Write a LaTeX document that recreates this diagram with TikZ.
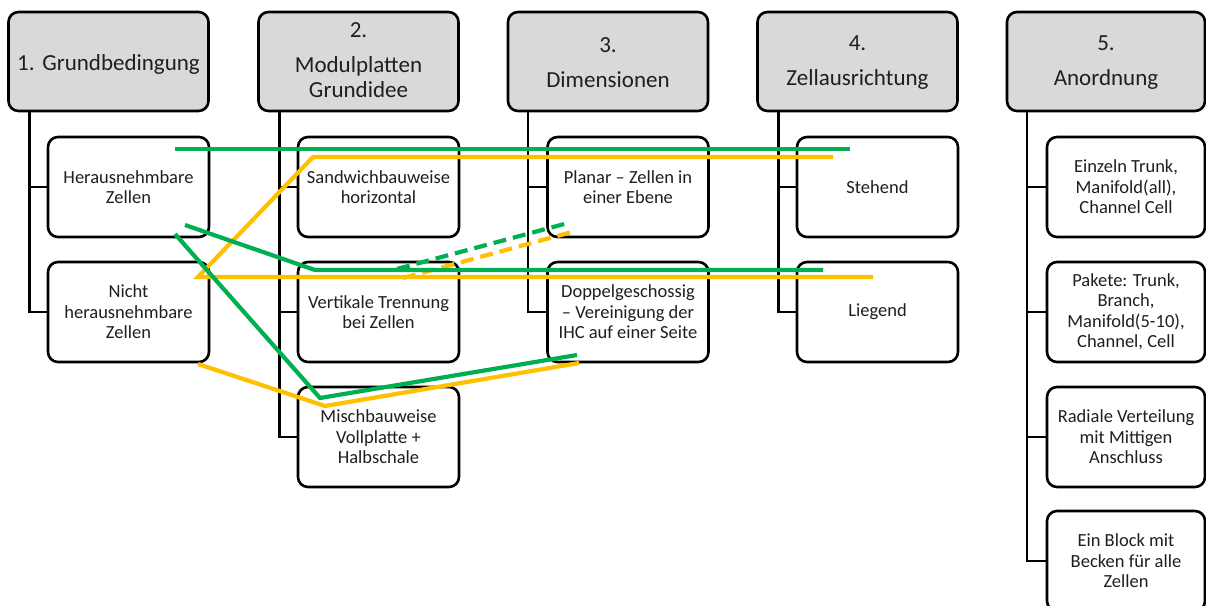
\documentclass[tikz,border=0pt]{standalone}
\usepackage{fontspec}
\setmainfont{Carlito}
\usetikzlibrary{calc}
\definecolor{boxgray}{RGB}{217,217,217}
\definecolor{linkgreen}{RGB}{0,176,80}
\definecolor{linkorange}{RGB}{255,192,0}
\tikzset{
  headbox/.style={draw=black, fill=boxgray, line width=2.6pt, rounded corners=10pt,
    minimum width=200pt, minimum height=99pt, outer sep=0pt},
  headtext/.style={inner sep=0pt, text width=190pt, align=center,
    text=black!88, font=\fontsize{23}{25.3}\selectfont\frenchspacing},
  itembox/.style={draw=black, fill=white, line width=2.6pt, rounded corners=10pt,
    minimum width=161pt, minimum height=100pt, outer sep=0pt, align=center,
    text=black!88, font=\fontsize{18.5}{20.5}\selectfont},
  trunk/.style={draw=black, line width=2.6pt},
  glink/.style={draw=linkgreen, line width=4.2pt},
  olink/.style={draw=linkorange, line width=4.2pt},
  dlink/.style={dash pattern=on 13pt off 7pt},
}
\begin{document}
\begin{tikzpicture}[x=1pt, y=-1pt]
\clip (0,0) rectangle (1206,605);
\fill[white] (0,0) rectangle (1206,605);

% column headers
\node[headbox] (h1) at (108.5,61.5) {};
\node[headbox] (h2) at (358.5,61.5) {};
\node[headbox] (h3) at (608,61.5) {};
\node[headbox] (h4) at (857.5,61.5) {};
\node[headbox, minimum width=198pt] (h5) at (1106,61.5) {};
\node[headtext] (h1t) at ($(h1.center)+(0,3)$) {1. Grundbedingung};
\node[headtext] (h2t) at ($(h2.center)+(0,-1.5)$) {2.\\[10pt]Modulplatten\\Grundidee};
\node[headtext] (h3t) at ($(h3.center)+(0,1)$) {3.\\[10pt]Dimensionen};
\node[headtext] (h4t) at ($(h4.center)+(0,1)$) {4.\\[10pt]Zellausrichtung};
\node[headtext] (h5t) at ($(h5.center)+(0,1)$) {5.\\[10pt]Anordnung};

% items of each column
\node[itembox] (c11) at (128.5,187) {Herausnehmbare\\Zellen};
\node[itembox] (c12) at (128.5,312) {Nicht\\herausnehmbare\\Zellen};

\node[itembox] (c21) at (378.5,187) {Sandwichbauweise\\horizontal};
\node[itembox] (c22) at (378.5,312) {Vertikale Trennung\\bei Zellen};
\node[itembox] (c23) at (378.5,437) {Mischbauweise\\Vollplatte +\\Halbschale};

\node[itembox] (c31) at (628,187) {Planar – Zellen in\\einer Ebene};
\node[itembox] (c32) at (628,312) {Doppelgeschossig\\– Vereinigung der\\IHC auf einer Seite};

\node[itembox] (c41) at (877.5,187) {Stehend};
\node[itembox] (c42) at (877.5,312) {Liegend};

\node[itembox, minimum width=158pt] (c51) at (1126,187) {Einzeln Trunk,\\Manifold(all),\\Channel Cell};
\node[itembox, minimum width=158pt] (c52) at (1126,312) {Pakete: Trunk,\\Branch,\\Manifold(5-10),\\Channel, Cell};
\node[itembox, minimum width=158pt] (c53) at (1126,437) {Radiale Verteilung\\mit Mittigen\\Anschluss};
\node[itembox, minimum width=158pt] (c54) at (1126,561) {Ein Block mit\\Becken für alle\\Zellen};

% tree connectors
\coordinate (t1) at ($(h1.south west)+(21,0)$);
\coordinate (t2) at ($(h2.south west)+(21,0)$);
\coordinate (t3) at ($(h3.south west)+(20,0)$);
\coordinate (t4) at ($(h4.south west)+(21,0)$);
\coordinate (t5) at ($(h5.south west)+(20,0)$);
\draw[trunk] (t1) |- (c12.west);
\draw[trunk] (c11.west) -- (c11.west -| t1);
\draw[trunk] (t2) |- (c23.west);
\draw[trunk] (c21.west) -- (c21.west -| t2);
\draw[trunk] (c22.west) -- (c22.west -| t2);
\draw[trunk] (t3) |- (c32.west);
\draw[trunk] (c31.west) -- (c31.west -| t3);
\draw[trunk] (t4) |- (c42.west);
\draw[trunk] (c41.west) -- (c41.west -| t4);
\draw[trunk] (t5) |- (c54.west);
\draw[trunk] (c51.west) -- (c51.west -| t5);
\draw[trunk] (c52.west) -- (c52.west -| t5);
\draw[trunk] (c53.west) -- (c53.west -| t5);

% combination lines
\coordinate (oa) at (833,157);
\coordinate (ob) at (313,157);
\coordinate (oc) at (198,277);
\coordinate (od) at (873,277);
\coordinate (oe) at (198,364);
\coordinate (of) at (325,406);
\coordinate (og) at (579,363);
\coordinate (oh) at (403,278);
\coordinate (oi) at (572,232);
\draw[olink] (oa) -- (ob) -- (oc) -- (od);
\draw[olink] (oe) -- (of) -- (og);
\draw[olink, dlink] (oh) -- (oi);

\coordinate (ga) at (175,149);
\coordinate (gb) at (850,149);
\coordinate (gc) at (185,225);
\coordinate (gd) at (315,270);
\coordinate (ge) at (823,270);
\coordinate (gf) at (175,234);
\coordinate (gg) at (320,398);
\coordinate (gh) at (577,355);
\coordinate (gi) at (397,269);
\coordinate (gj) at (568,223);
\draw[glink] (ga) -- (gb);
\draw[glink] (gc) -- (gd) -- (ge);
\draw[glink] (gf) -- (gg) -- (gh);
\draw[glink, dlink] (gi) -- (gj);
\end{tikzpicture}
\end{document}
